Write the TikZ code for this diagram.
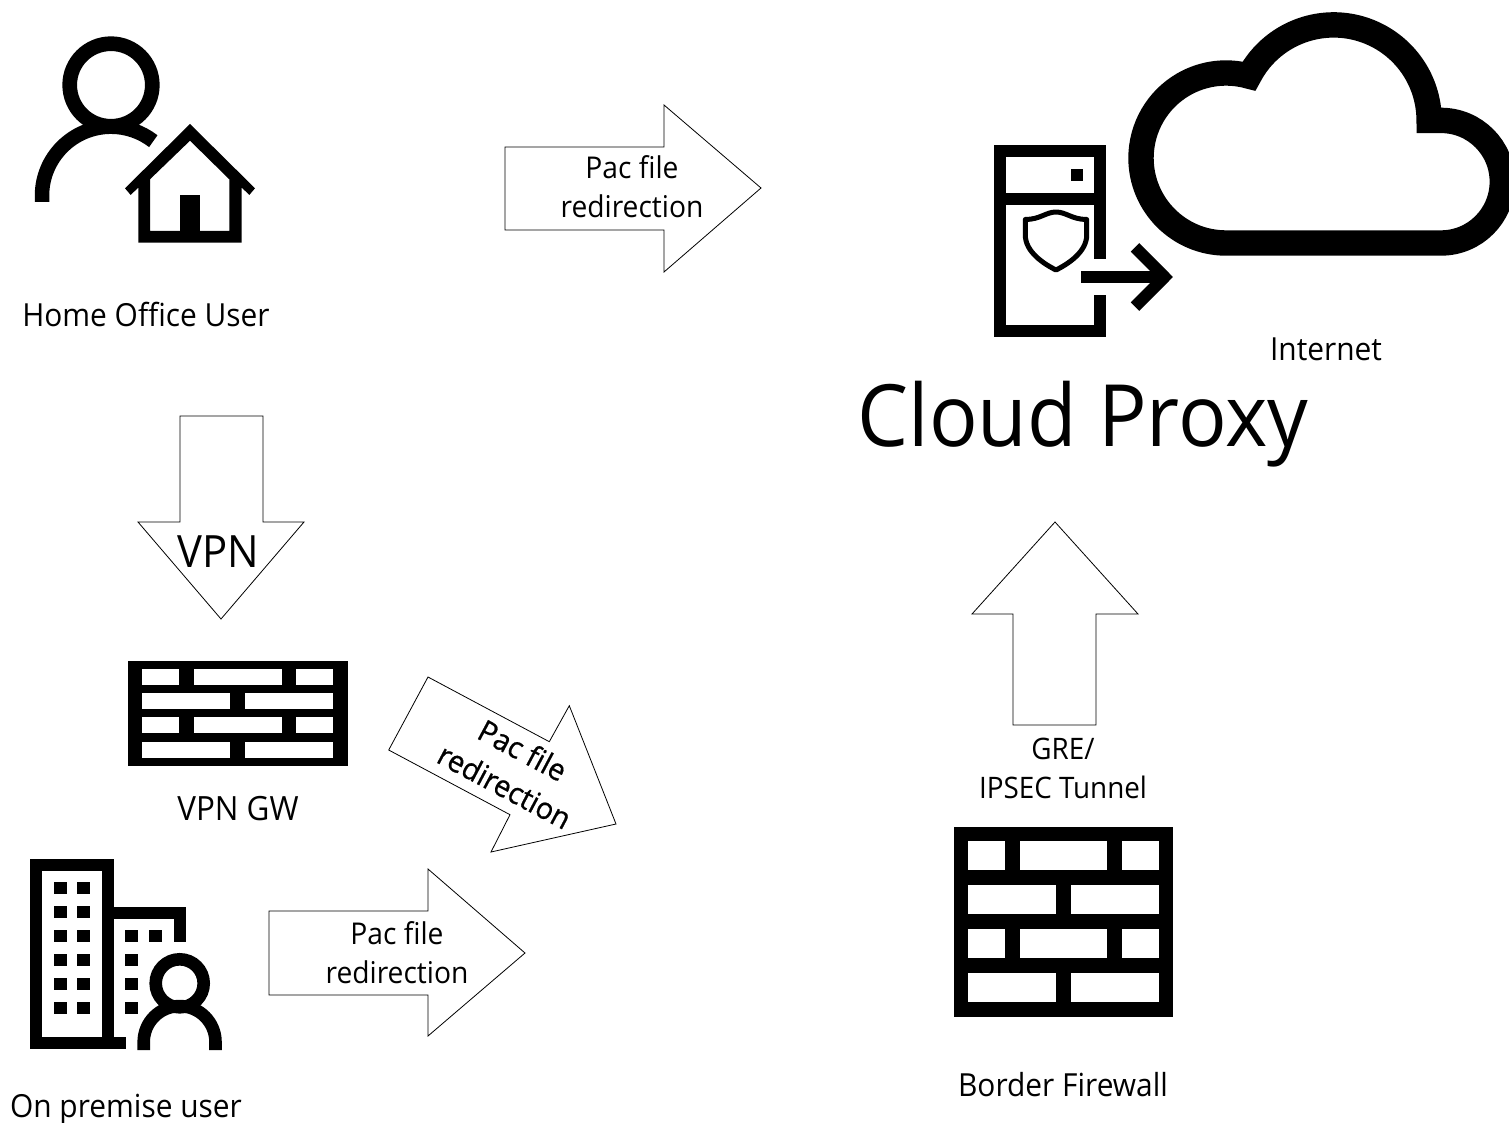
\documentclass[tikz,border=0pt]{standalone}
\usepackage{fontspec}
\setmainfont{Open Sans}[FakeStretch=0.94]
\newfontfamily\thickfont{Open Sans}[FakeStretch=0.96,FakeBold=0.7]
\tikzset{
  x=1pt,y=1pt,
  label29/.style={font=\fontsize{30}{39}\selectfont,anchor=base,inner sep=0pt,text=black},
  label32/.style={font=\fontsize{31.8}{39}\selectfont,anchor=base,inner sep=0pt,text=black},
  labelrot/.style={font=\thickfont\fontsize{30}{39}\selectfont,anchor=base,inner sep=0pt,text=black,rotate=-28},
  block/.style={draw=black,line width=0.8pt,fill=white,line join=miter},
  icon/.style={draw=black,line width=12pt,line join=miter,line cap=butt}
}
\newcommand{\brk}[4]{\fill[white] (#1,-#3) rectangle (#2,-#4);}
\begin{document}
\begin{tikzpicture}
\clip (0,0) rectangle (1509,-1123);
\fill[white] (0,0) rectangle (1509,-1123);

% Home office user: person
\draw[black,line width=14.7pt] (111,-85) circle[radius=41.3];
\draw[black,line width=14.5pt,line cap=butt] (42,-202) -- (42,-195.7) arc[start angle=180,end angle=52.2,radius=69];
% house
\fill[black,even odd rule] (190,-124) -- (255,-188.3) -- (249.3,-195) -- (241.7,-187.5) -- (241.7,-242.7) -- (138.3,-242.7) -- (138.3,-187.5) -- (130.7,-195) -- (125,-188.3) -- cycle
  (190,-140.7) -- (229.3,-179.3) -- (229.3,-231) -- (150,-231) -- (150,-179.3) -- cycle;
\fill[black] (180,-195) rectangle (200.3,-235);

% Cloud
\draw[black,line width=25.4pt,line join=miter,miter limit=10]
  (1226,-243) arc[start angle=270,end angle=74.3,radius=85]
  arc[start angle=152.4,end angle=0,radius=95.5]
  -- (1441,-120.4)
  arc[start angle=90,end angle=-90,radius=61.3] -- cycle;

% Server
\draw[icon] (1100.2,-258.7) -- (1100.2,-151.3) -- (999.7,-151.3) -- (999.7,-331) -- (1100.2,-331) -- (1100.2,-295);
\draw[icon] (999.7,-199.2) -- (1100.2,-199.2);
\fill[black] (1071,-169) rectangle (1082.7,-181);
\draw[black,line width=5pt,line join=round] (1056,-212) .. controls (1046,-212) and (1040,-219.5) .. (1025.3,-219.5) -- (1025.3,-235) .. controls (1025.3,-252) and (1044,-264) .. (1056,-270) .. controls (1068,-264) and (1086.7,-252) .. (1086.7,-235) -- (1086.7,-219.5) .. controls (1072,-219.5) and (1066,-212) .. (1056,-212) -- cycle;
\draw[icon] (1081,-277) -- (1162,-277);
\draw[icon] (1135,-247.4) -- (1164.5,-277) -- (1135,-306.7);

% VPN gateway firewall
\fill[black] (127.7,-661) rectangle (347.7,-765.7);
\foreach \a/\b in {669/685,717.3/733.3}{
  \brk{142.3}{179}{\a}{\b}\brk{193.7}{281.7}{\a}{\b}\brk{296.3}{333}{\a}{\b}}
\foreach \a/\b in {693.3/709.3,741.7/757.7}{
  \brk{142.3}{230.3}{\a}{\b}\brk{245}{333}{\a}{\b}}

% Border firewall
\fill[black] (953.7,-826.7) rectangle (1173.3,-1016.7);
\foreach \a/\b in {841/870.3,929/958.3}{
  \brk{968.3}{1005}{\a}{\b}\brk{1019.7}{1107.3}{\a}{\b}\brk{1122.3}{1159}{\a}{\b}}
\foreach \a/\b in {885/914.3,972.7/1002}{
  \brk{968.3}{1056.3}{\a}{\b}\brk{1071}{1159}{\a}{\b}}

% Building
\draw[icon] (125.7,-1043) -- (36.3,-1043) -- (36.3,-864.7) -- (107.7,-864.7) -- (107.7,-1043);
\draw[icon] (107.7,-912.5) -- (179.7,-912.5) -- (179.7,-941.7);
\foreach \r in {882,906,930,954,978,1002}{
  \fill[black] (54,-\r) rectangle ++(12.7,-12);
  \fill[black] (77,-\r) rectangle ++(13,-12);}
\foreach \r in {930,954,978,1002}{
  \fill[black] (125,-\r) rectangle ++(13,-12);}
\fill[black] (149,-930) rectangle ++(13,-12);
\draw[black,line width=12.6pt] (179.7,-983.3) circle[radius=24];
\draw[black,line width=12.6pt,line cap=butt] (143.7,-1050) -- (143.7,-1042) arc[start angle=180,end angle=0,radius=35.9] -- (215.5,-1050);

% Block arrows
\draw[block] (505,-147) -- (664,-147) -- (664,-105) -- (761,-188) -- (664,-272) -- (664,-230) -- (505,-230) -- cycle;
\draw[block] (180,-416) -- (263,-416) -- (263,-522) -- (304,-522) -- (221,-619) -- (138,-522) -- (180,-522) -- cycle;
\draw[block] (269,-911) -- (428,-911) -- (428,-869) -- (525,-953) -- (428,-1036) -- (428,-995) -- (269,-995) -- cycle;
\draw[block] (1013,-725) -- (1096,-725) -- (1096,-614) -- (1138,-614) -- (1055,-522) -- (972,-614) -- (1013,-614) -- cycle;
\draw[block] (428,-677) -- (549.3,-741.7) -- (569.3,-705.7) -- (616,-824) -- (491,-852) -- (510,-814.7) -- (388.7,-750) -- cycle;

% Labels
\node[label32] (home) at (146,-326) {Home Office User};
\node[label32] (prem) at (126,-1117) {On premise user};
\node[label32,font=\fontsize{33.4}{39}\selectfont] (gw) at (238,-820) {VPN GW};
\node[label32] (inet) at (1326,-360) {Internet};
\node[label32] (border) at (1063,-1096) {Border Firewall};
\node[label29,font=\fontsize{29.6}{39}\selectfont] (gre) at (1063,-759) {GRE/};
\node[label29,font=\fontsize{29.6}{39}\selectfont] (ipsec) at (1063,-798) {IPSEC Tunnel};
\node[label29] (p1a) at (632,-179) {Pac file};
\node[label29] (p1b) at (632,-218) {redirection};
\node[label29] (p3a) at (397,-944) {Pac file};
\node[label29] (p3b) at (397,-983) {redirection};
\node[font=\fontsize{44.5}{44}\selectfont,anchor=base,inner sep=0pt,text=black] (vpn) at (218,-567) {VPN};
\node[font=\fontsize{86}{86}\selectfont,anchor=base,inner sep=0pt,text=black] (cp) at (1083,-446) {Cloud Proxy};
\node[labelrot] (p2a) at (517.5,-760) {Pac file};
\node[labelrot] (p2b) at (499.5,-796) {redirection};
\end{tikzpicture}
\end{document}
